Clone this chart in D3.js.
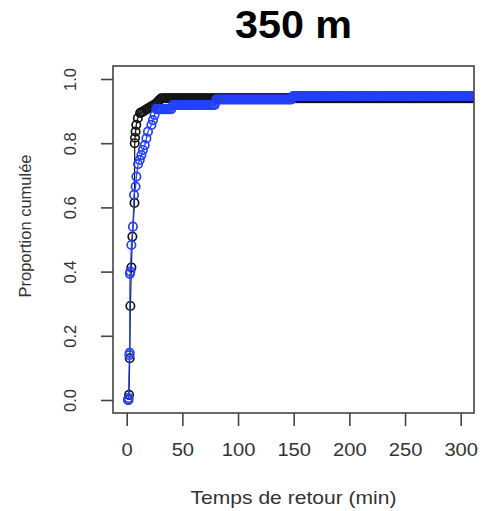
<!DOCTYPE html>
<html>
<head>
<meta charset="utf-8">
<script src="https://cdn.jsdelivr.net/npm/d3@7"></script>
<style>
  html, body { margin: 0; padding: 0; background: #fff; }
  svg { display: block; }
</style>
</head>
<body>
<div id="chart"></div>
<script>
// ---------- DATA ----------
const title = "350 m";
const xTitle = "Temps de retour (min)";
const yTitle = "Proportion cumulée";
const xTicks = [0, 50, 100, 150, 200, 250, 300];
const yTicks = [0.0, 0.2, 0.4, 0.6, 0.8, 1.0];

// black series: early rise [time (min), cumulative proportion]
const blackRise = [[1.5,0.0],[2.1,0.016],[2.7,0.13],[3.3,0.293],[4.2,0.413],[5.1,0.509],
  [7.0,0.614],[7.2,0.80],[7.5,0.817],[8.0,0.836],[8.6,0.857],[10.0,0.878],[12.0,0.894],
  [13,0.896],[14.5,0.898],[16,0.902],[17.5,0.905],[19,0.908],[20.5,0.911],[22,0.914],
  [23.5,0.917],[25,0.92],[26.5,0.924],[28,0.93],[29.5,0.935]];
// black series: plateau
const blackPlateauProp = 0.94;
const blackPlateauTimes = [31,32.5,34,35.5,37,38.5,40,41.5,43,44.5,46,47.5,49,50.5,52,53.5,55,
  56.5,58,59.5,61,62.5,64,65.5,67,68.5,70,71.5,73,74.5,76,77.5,79,80.5,82,83.5,85,86.5,88,89.5,
  91,92.5,94,95.5,97,98.5,100,101.5,103,104.5,106,107.5,109,110.5,112,113.5,115,116.5,118,119.5,
  121,122.5,124,125.5,127,128.5,130,131.5,133,134.5,136,137.5,139,140.5,142,143.5,145,146.5,148,
  149.5,151,152.5,154,155.5,157,158.5,160,161.5,163,164.5,166,167.5,169,170.5,172,173.5,175,
  176.5,178,179.5,181,182.5,184,185.5,187,188.5,190,191.5,193,194.5,196,197.5,199,200.5,202,
  203.5,205,206.5,208,209.5,211,212.5,214,215.5,217,218.5,220,221.5,223,224.5,226,227.5,229,
  230.5,232,233.5,235,236.5,238,239.5,241,242.5,244,245.5,247,248.5,250,251.5,253,254.5,256,
  257.5,259,260.5,262,263.5,265,266.5,268,269.5,271,272.5,274,275.5,277,278.5,280,281.5,283,
  284.5,286,287.5,289,290.5,292,293.5,295,296.5,298,299.5,301,302.5,304,305.5,307,308.5,310,
  311.5,313];

// blue series: early rise
const blueRise = [[1.2,0.0],[1.6,0.006],[2.4,0.14],[2.7,0.147],[2.9,0.393],[3.3,0.40],[4.2,0.483],
  [5.6,0.54],[6.6,0.639],[8.0,0.665],[8.7,0.696],[10.2,0.735],[11.7,0.748],[13.2,0.763],
  [14.6,0.779],[16.2,0.794],[17.7,0.815],[19.1,0.836],[22.2,0.857],[23.6,0.872],[25.0,0.888]];
// blue series: plateaus
const bluePlateauProps = [0.906, 0.919, 0.936, 0.947];
const bluePlateauTimes = [
  [26.5,28,29.5,31,32.5,34,35.5,37,38.5,40],
  [41.5,43,44.5,46,47.5,49,50.5,52,53.5,55,56.5,58,59.5,61,62.5,64,65.5,67,68.5,70,71.5,73,
   74.5,76,77.5,79],
  [80.5,82,83.5,85,86.5,88,89.5,91,92.5,94,95.5,97,98.5,100,101.5,103,104.5,106,107.5,109,
   110.5,112,113.5,115,116.5,118,119.5,121,122.5,124,125.5,127,128.5,130,131.5,133,134.5,136,
   137.5,139,140.5,142,143.5,145,146.5,148],
  [149.5,151,152.5,154,155.5,157,158.5,160,161.5,163,164.5,166,167.5,169,170.5,172,173.5,175,
   176.5,178,179.5,181,182.5,184,185.5,187,188.5,190,191.5,193,194.5,196,197.5,199,200.5,202,
   203.5,205,206.5,208,209.5,211,212.5,214,215.5,217,218.5,220,221.5,223,224.5,226,227.5,229,
   230.5,232,233.5,235,236.5,238,239.5,241,242.5,244,245.5,247,248.5,250,251.5,253,254.5,256,
   257.5,259,260.5,262,263.5,265,266.5,268,269.5,271,272.5,274,275.5,277,278.5,280,281.5,283,
   284.5,286,287.5,289,290.5,292,293.5,295,296.5,298,299.5,301,302.5,304,305.5,307,308.5,310,
   311.5,313]
];

// ---------- BUILD SERIES ----------
const blackPts = blackRise.map(d => ({t: d[0], p: d[1]}))
  .concat(blackPlateauTimes.map(t => ({t, p: blackPlateauProp})));
const bluePts = blueRise.map(d => ({t: d[0], p: d[1]}));
bluePlateauTimes.forEach((ts, i) => ts.forEach(t => bluePts.push({t, p: bluePlateauProps[i]})));

const series = [
  {name: "black", color: "#141414", pts: blackPts},
  {name: "blue", color: "#2340fa", pts: bluePts}
];

// ---------- LAYOUT ----------
const W = 482, H = 511;
const box = {left: 113, top: 66, right: 474, bottom: 413};

const x = d3.scaleLinear().domain([0, 300]).range([126.7, 460.7]);
const y = d3.scaleLinear().domain([0, 1]).range([400, 79]);

const svg = d3.select("#chart").append("svg")
  .attr("width", W).attr("height", H)
  .style("font-family", "'Liberation Sans', Arial, sans-serif");

svg.append("defs").append("clipPath").attr("id", "plotclip")
  .append("rect")
  .attr("x", box.left).attr("y", box.top)
  .attr("width", box.right - box.left).attr("height", box.bottom - box.top);

// title
svg.append("g").attr("transform", `translate(${(box.left + box.right) / 2},37.5)`)
  .append("text")
  .attr("text-anchor", "middle")
  .attr("transform", "scale(1.06,1)")
  .style("font-family", "'Liberation Sans', Arial, sans-serif")
  .style("font-weight", "bold").style("font-size", "39px")
  .attr("fill", "#000")
  .text(title);

// series
const plot = svg.append("g").attr("clip-path", "url(#plotclip)");
const line = d3.line().x(d => x(d.t)).y(d => y(d.p));
series.forEach(s => {
  const g = plot.append("g");
  g.append("path").datum(s.pts)
    .attr("d", line).attr("fill", "none")
    .attr("stroke", s.color).attr("stroke-width", 1.2);
  g.selectAll("circle").data(s.pts).join("circle")
    .attr("cx", d => x(d.t)).attr("cy", d => y(d.p))
    .attr("r", 4.2)
    .attr("fill", "none").attr("stroke", s.color).attr("stroke-width", 1.7);
});

// box
svg.append("rect")
  .attr("x", box.left).attr("y", box.top)
  .attr("width", box.right - box.left).attr("height", box.bottom - box.top)
  .attr("fill", "none").attr("stroke", "#444").attr("stroke-width", 1.6);

// x axis
const xAxis = svg.append("g")
  .attr("transform", `translate(0,${box.bottom})`)
  .call(d3.axisBottom(x).tickValues(xTicks).tickSize(13).tickFormat(d3.format("d")));
xAxis.select(".domain").remove();
xAxis.selectAll(".tick line").attr("stroke", "#444").attr("stroke-width", 1.6);
xAxis.selectAll(".tick text")
  .attr("y", 43).attr("dy", 0)
  .attr("transform", "scale(1.12,1)")
  .attr("fill", "#333")
  .style("font-size", "18px");

// y axis
const yAxis = svg.append("g")
  .attr("transform", `translate(${box.left},0)`)
  .call(d3.axisLeft(y).tickValues(yTicks).tickSize(12).tickFormat(d3.format(".1f")));
yAxis.select(".domain").remove();
yAxis.selectAll(".tick line").attr("stroke", "#444").attr("stroke-width", 1.6);
yAxis.selectAll(".tick text")
  .attr("x", 0).attr("y", 0).attr("dy", "0.36em")
  .attr("text-anchor", "middle")
  .attr("transform", `translate(${70 - box.left},0) rotate(-90)`)
  .attr("fill", "#333")
  .style("font-size", "16.5px");

// axis titles
svg.append("g").attr("transform", `translate(${(box.left + box.right) / 2},504)`)
  .append("text")
  .attr("text-anchor", "middle")
  .attr("transform", "scale(1.17,1)")
  .attr("fill", "#333")
  .style("font-size", "18px")
  .text(xTitle);

svg.append("text")
  .attr("transform", `translate(31,226) rotate(-90)`)
  .attr("text-anchor", "middle")
  .attr("fill", "#333")
  .style("font-size", "16.5px")
  .text(yTitle);
</script>
</body>
</html>
